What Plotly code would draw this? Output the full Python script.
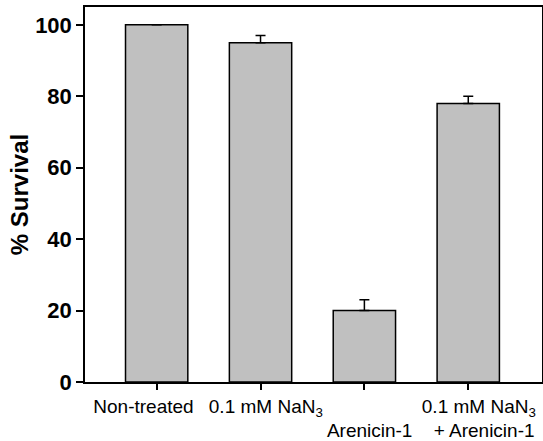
import plotly.graph_objects as go

categories = ["Non-treated&nbsp;&nbsp;&nbsp;&nbsp;&nbsp;",
              "&nbsp;&nbsp;0.1 mM NaN<sub>3</sub>",
              "<br>&nbsp;&nbsp;Arenicin-1",
              "&nbsp;&nbsp;&nbsp;&nbsp;0.1 mM NaN<sub>3</sub><br>&nbsp;&nbsp;&nbsp;&nbsp;&nbsp;&nbsp;+ Arenicin-1"]
survival = [100, 95, 20, 78]
err_plus = [0, 2, 3, 2]
y_ticks = [0, 20, 40, 60, 80, 100]

x_pos = list(range(len(categories)))

fig = go.Figure()
fig.add_trace(go.Bar(
    x=x_pos, y=survival, width=0.6,
    marker=dict(color="#c0c0c0", line=dict(color="black", width=1.5)),
    error_y=dict(type="data", symmetric=False, array=err_plus,
                 arrayminus=[0]*len(err_plus), color="black", thickness=1.5, width=5),
))
fig.update_layout(
    width=543, height=441,
    margin=dict(l=85, r=1, t=7, b=59),
    plot_bgcolor="white", paper_bgcolor="white",
    showlegend=False,
    font=dict(family="Liberation Sans, Arial", color="black"),
)
fig.update_xaxes(
    range=[-0.69, 3.71], tickvals=x_pos, ticktext=categories,
    ticks="outside", ticklen=6, tickwidth=1.5, tickcolor="black",
    showline=True, linecolor="black", linewidth=1.5, mirror=True,
    showgrid=False, zeroline=False, tickangle=0,
    tickfont=dict(size=19, color="black"),
    automargin=False,
)
fig.update_yaxes(
    range=[0, 105], tickvals=y_ticks,
    ticks="outside", ticklen=7, tickwidth=1.5, tickcolor="black",
    showline=True, linecolor="black", linewidth=1.5, mirror=True,
    showgrid=False, zeroline=False,
    tickfont=dict(size=22, color="black", family="Liberation Sans, Arial", weight="bold"),
    title=dict(text="<b>% Survival</b>", font=dict(size=24, color="black"), standoff=0),
    automargin=False,
)
fig.write_html("out.html")
